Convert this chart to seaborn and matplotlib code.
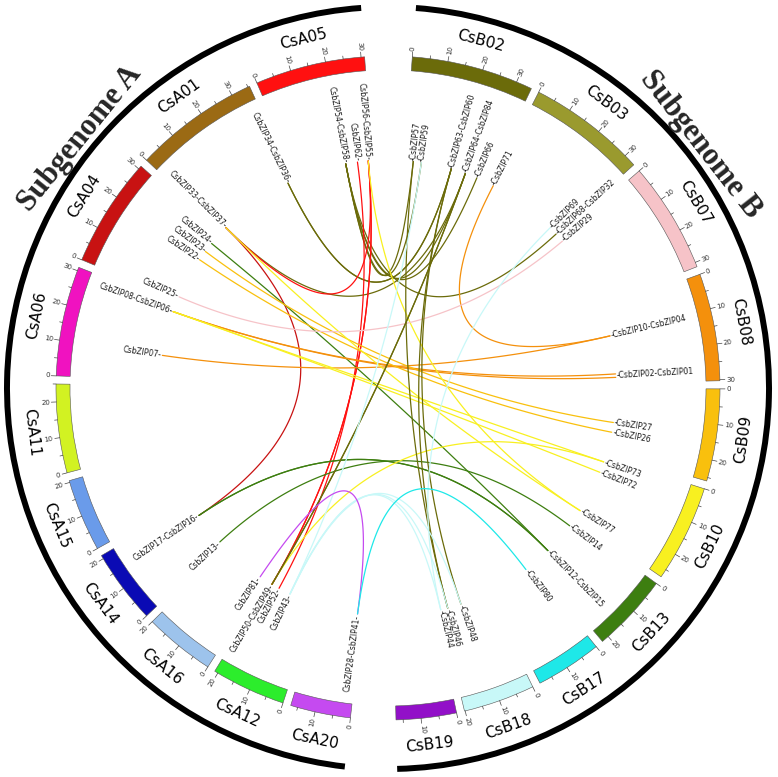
import numpy as np
import pandas as pd
import matplotlib
matplotlib.use("Agg")
import matplotlib.pyplot as plt
from matplotlib.patches import Wedge, Arc
import seaborn as sns

# ---------------- data ----------------
chrom_A = ["CsA20", "CsA12", "CsA16", "CsA14", "CsA15", "CsA11", "CsA06", "CsA04", "CsA01", "CsA05"]
len_A = [17, 21, 20, 21, 20.5, 25, 31, 31, 35.5, 31]
chrom_B = ["CsB02", "CsB03", "CsB07", "CsB08", "CsB09", "CsB10", "CsB13", "CsB17", "CsB18", "CsB19"]
len_B = [34.5, 33.5, 31.3, 30.3, 26, 27.4, 22.1, 18.7, 20.2, 17]

chrom_colors = {
    "CsA05": "#ff1010", "CsA01": "#9b6a14", "CsA04": "#c81212", "CsA06": "#f012c0",
    "CsA11": "#d2f222", "CsA15": "#6a9bea", "CsA14": "#0a0ab4", "CsA16": "#9dc3ec",
    "CsA12": "#2ced2c", "CsA20": "#c54af0",
    "CsB02": "#6b6b0a", "CsB03": "#9a9a2e", "CsB07": "#f6c3c8", "CsB08": "#f4900c",
    "CsB09": "#f9c00d", "CsB10": "#f8f020", "CsB13": "#3d7e10", "CsB17": "#1ee8e8",
    "CsB18": "#c8f8f8", "CsB19": "#9210c8",
}

gene_names = ["CsbZIP34", "CsbZIP36", "CsbZIP54", "CsbZIP58", "CsbZIP62", "CsbZIP56", "CsbZIP55",
              "CsbZIP33", "CsbZIP37", "CsbZIP24", "CsbZIP23", "CsbZIP22", "CsbZIP25",
              "CsbZIP08", "CsbZIP06", "CsbZIP07", "CsbZIP17", "CsbZIP16", "CsbZIP13",
              "CsbZIP81", "CsbZIP50", "CsbZIP49", "CsbZIP52", "CsbZIP43", "CsbZIP28", "CsbZIP41",
              "CsbZIP57", "CsbZIP59", "CsbZIP63", "CsbZIP60", "CsbZIP64", "CsbZIP84", "CsbZIP66",
              "CsbZIP71", "CsbZIP69", "CsbZIP68", "CsbZIP32", "CsbZIP29", "CsbZIP10", "CsbZIP04",
              "CsbZIP02", "CsbZIP01", "CsbZIP27", "CsbZIP26", "CsbZIP73", "CsbZIP72", "CsbZIP77",
              "CsbZIP14", "CsbZIP12", "CsbZIP15", "CsbZIP80", "CsbZIP48", "CsbZIP46", "CsbZIP44"]
gene_chroms = ["CsA01", "CsA01", "CsA05", "CsA05", "CsA05", "CsA05", "CsA05",
               "CsA01", "CsA01", "CsA04", "CsA04", "CsA04", "CsA04",
               "CsA06", "CsA06", "CsA06", "CsA14", "CsA14", "CsA14",
               "CsA16", "CsA12", "CsA12", "CsA12", "CsA12", "CsA20", "CsA20",
               "CsB02", "CsB02", "CsB02", "CsB02", "CsB02", "CsB02", "CsB02",
               "CsB03", "CsB03", "CsB03", "CsB03", "CsB07", "CsB08", "CsB08",
               "CsB08", "CsB08", "CsB09", "CsB09", "CsB10", "CsB10", "CsB10",
               "CsB13", "CsB13", "CsB13", "CsB17", "CsB18", "CsB18", "CsB18"]
gene_pos = [33.3, 33.3, 20.3, 20.3, 25.1, 29.5, 29.5,
            2.2, 2.2, 26.8, 22.7, 18.6, 1.4,
            28.2, 28.2, 9.9, 15.1, 15.1, 1.4,
            2.0, 19.6, 19.6, 16.3, 11.3, 1.9, 1.9,
            3.5, 6.8, 19.2, 19.2, 25.2, 25.2, 30.2,
            0.8, 29.6, 33.1, 33.1, 1.2, 11.0, 11.0,
            26.6, 28.0, 13.8, 17.8, 2.0, 6.5, 24.0,
            1.8, 15.2, 15.2, 2.6, 11.6, 17.2, 20.1]

link_from = ["CsbZIP36", "CsbZIP34", "CsbZIP33", "CsbZIP58", "CsbZIP54", "CsbZIP58", "CsbZIP54",
             "CsbZIP54", "CsbZIP62", "CsbZIP56", "CsbZIP55", "CsbZIP55", "CsbZIP33",
             "CsbZIP24", "CsbZIP16", "CsbZIP17", "CsbZIP13", "CsbZIP07", "CsbZIP71",
             "CsbZIP08", "CsbZIP06", "CsbZIP22", "CsbZIP23", "CsbZIP08", "CsbZIP06",
             "CsbZIP37", "CsbZIP56", "CsbZIP49", "CsbZIP25", "CsbZIP64", "CsbZIP84",
             "CsbZIP60", "CsbZIP63", "CsbZIP57", "CsbZIP43", "CsbZIP43", "CsbZIP43",
             "CsbZIP69", "CsbZIP59", "CsbZIP81", "CsbZIP80"]
link_to = ["CsbZIP60", "CsbZIP63", "CsbZIP64", "CsbZIP57", "CsbZIP59", "CsbZIP84", "CsbZIP66",
           "CsbZIP68", "CsbZIP52", "CsbZIP50", "CsbZIP49", "CsbZIP37", "CsbZIP16",
           "CsbZIP12", "CsbZIP15", "CsbZIP12", "CsbZIP14", "CsbZIP10", "CsbZIP04",
           "CsbZIP02", "CsbZIP01", "CsbZIP26", "CsbZIP27", "CsbZIP73", "CsbZIP72",
           "CsbZIP77", "CsbZIP77", "CsbZIP73", "CsbZIP29", "CsbZIP50", "CsbZIP49",
           "CsbZIP46", "CsbZIP48", "CsbZIP46", "CsbZIP44", "CsbZIP46", "CsbZIP48",
           "CsbZIP44", "CsbZIP43", "CsbZIP41", "CsbZIP28"]
link_colour_chrom = ["CsB02", "CsB02", "CsB02", "CsB02", "CsB02", "CsB02", "CsB02",
                     "CsB02", "CsA05", "CsA05", "CsA05", "CsA05", "CsA04",
                     "CsB13", "CsB13", "CsB13", "CsB13", "CsB08", "CsB08",
                     "CsB08", "CsB08", "CsB09", "CsB09", "CsB10", "CsB10",
                     "CsB10", "CsB10", "CsB10", "CsB07", "CsB02", "CsB02",
                     "CsB02", "CsB02", "CsB02", "CsB18", "CsB18", "CsB18",
                     "CsB18", "CsB18", "CsA20", "CsB17"]

subgenome_labels = ["Subgenome A", "Subgenome B"]

# ---------------- layout ----------------
SCALE, GAP = 0.62, 1.4          # degrees per Mb, gap between chromosomes
R_IN, R_OUT = 318, 332          # chromosome ring
R_LINK = 228
R_ARC = 381

starts = {}
def layout(chroms, lens, a):
    first = a
    for c, L in zip(chroms, lens):
        starts[c] = (a, L)
        a += L * SCALE + GAP
    return first, a - GAP

span_A = layout(chrom_A, len_A, 186.5)
span_B = layout(chrom_B, len_B, 4.2)

def comp(chrom, pos):
    return starts[chrom][0] + pos * SCALE

def xy(c, r):
    t = np.deg2rad(90 - c)
    return r * np.cos(t), r * np.sin(t)

sns.set_theme(style="white")
plt.rcParams['font.family'] = ['DejaVu Sans']

fig = plt.figure(figsize=(7.78, 7.77), dpi=100)
ax = fig.add_axes([0, 0, 1, 1])

# chromosome bars, ticks, names
for c, (a0, L) in starts.items():
    a1 = a0 + L * SCALE
    ax.add_patch(Wedge((0, 0), R_OUT, 90 - a1, 90 - a0, width=R_OUT - R_IN,
                       facecolor=chrom_colors[c], edgecolor="#555555", lw=0.4, zorder=3))
    for m in range(0, int(L) + 1, 5):
        ang = a0 + m * SCALE
        tl = 5 if m % 10 == 0 else 3
        x0, y0 = xy(ang, R_OUT)
        x1, y1 = xy(ang, R_OUT + tl)
        ax.plot([x0, x1], [y0, y1], color="#444444", lw=0.5, zorder=3)
        if m % 10 == 0:
            tx, ty = xy(ang, R_OUT + tl + 1.5)
            if ang < 180:
                ax.text(tx, ty, str(m), rotation=90 - ang, ha="left", va="center",
                        rotation_mode="anchor", fontsize=5, color="#333333")
            else:
                ax.text(tx, ty, str(m), rotation=270 - ang, ha="right", va="center",
                        rotation_mode="anchor", fontsize=5, color="#333333")
    mid = (a0 + a1) / 2
    lx, ly = xy(mid, 359)
    top = mid < 90 or mid > 270
    rot = -mid if top else 180 - mid
    ax.text(lx, ly, c, rotation=rot, ha="center", va="center",
            rotation_mode="anchor", fontsize=11, color="black")

# outer subgenome arcs and labels
for (s0, s1), lab, cpos in zip([span_A, span_B], subgenome_labels, [309, 52]):
    ax.add_patch(Arc((0, 0), 2 * R_ARC, 2 * R_ARC, theta1=90 - s1, theta2=90 - s0,
                     lw=4.3, color="black", capstyle="butt"))
    tx, ty = xy(cpos, 396)
    ax.text(tx, ty, lab, rotation=-cpos, ha="center", va="center", rotation_mode="anchor",
            fontsize=22, fontweight="bold", family=["Liberation Serif", "DejaVu Serif"])

# gene angles
gene_ang = {n: comp(ch, p) for n, ch, p in zip(gene_names, gene_chroms, gene_pos)}

# links as quadratic Bezier curves through centre
tt = np.linspace(0, 1, 100)
rows = []
for i, (a, b) in enumerate(zip(link_from, link_to)):
    p0 = np.array(xy(gene_ang[a], R_LINK))
    p2 = np.array(xy(gene_ang[b], R_LINK))
    pts = ((1 - tt) ** 2)[:, None] * p0 + (tt ** 2)[:, None] * p2
    for k, (x, y) in enumerate(pts):
        rows.append((f"L{i:02d}", k, x, y))
df = pd.DataFrame(rows, columns=["link", "k", "x", "y"])
palette = {f"L{i:02d}": chrom_colors[c] for i, c in enumerate(link_colour_chrom)}
sns.lineplot(data=df, x="x", y="y", hue="link", units="link", palette=palette,
             estimator=None, sort=False, legend=False, lw=0.9, ax=ax, zorder=2)

# gene labels (clustered when overlapping)
order = sorted(range(len(gene_names)), key=lambda i: (gene_ang[gene_names[i]], i))
groups = []
for i in order:
    ang = gene_ang[gene_names[i]]
    if groups and abs(ang - groups[-1]["angs"][-1]) < 1.2 and gene_chroms[i] == groups[-1]["chrom"]:
        groups[-1]["idx"].append(i)
        groups[-1]["angs"].append(ang)
    else:
        groups.append({"idx": [i], "angs": [ang], "chrom": gene_chroms[i]})
for g in groups:
    ang = float(np.mean(g["angs"]))
    names = "-".join(gene_names[i] for i in sorted(g["idx"]))
    tx, ty = xy(ang, R_LINK + 1)
    if ang < 180:
        ax.text(tx, ty, "-" + names, rotation=90 - ang, ha="left", va="center",
                rotation_mode="anchor", fontsize=5.5, color="#1a1a1a")
    else:
        ax.text(tx, ty, names + "-", rotation=270 - ang, ha="right", va="center",
                rotation_mode="anchor", fontsize=5.5, color="#1a1a1a")

ax.set_xlim(-388, 390)
ax.set_ylim(-389, 388)
ax.set_aspect("equal")
ax.axis("off")
fig.savefig("out.png", dpi=100)
